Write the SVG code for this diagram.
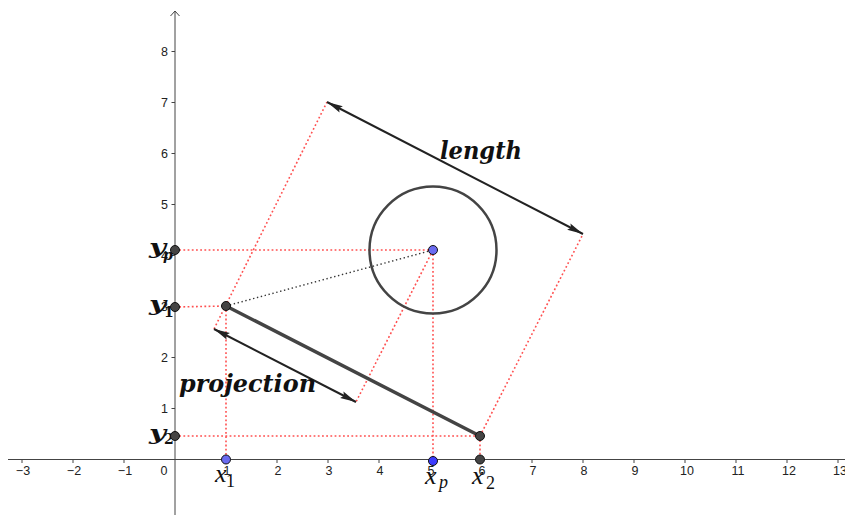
<svg xmlns="http://www.w3.org/2000/svg" width="845" height="515" viewBox="0 0 845 515">
<defs>
<style>
.axis{stroke:#444;stroke-width:1;fill:none}
.tick{stroke:#444;stroke-width:1}
.tl{font-family:"Liberation Sans",Arial,sans-serif;font-size:12.5px;fill:#222}
.tlx{text-anchor:middle}
.tly{text-anchor:end}
.red{stroke:#ff5050;stroke-width:1.6;stroke-dasharray:1.8 2.4;fill:none}
.blk{stroke:#333;stroke-width:1.4;stroke-dasharray:1.4 2.6;fill:none}
.vec{stroke:#222;stroke-width:2;fill:none;marker-start:url(#ah);marker-end:url(#ah)}
.seg{stroke:#444;stroke-width:3.5;stroke-linecap:round;fill:none}
.circ{stroke:#444;stroke-width:2.5;fill:none}
.ptd{fill:#444;stroke:#111;stroke-width:1}
.ptb{fill:#6b6bf0;stroke:#111;stroke-width:1}
.ptb2{fill:#3c3cff;stroke:#111;stroke-width:1}
.big{font-family:"DejaVu Serif","Liberation Serif",serif;font-weight:bold;font-style:italic;font-size:25px;fill:#111}
.ylab{font-family:"DejaVu Serif","Liberation Serif",serif;font-weight:bold;font-style:italic;font-size:20px;fill:#111}
.ysub{font-family:"DejaVu Serif","Liberation Serif",serif;font-weight:bold;font-size:14px;fill:#111}
.ysubi{font-family:"DejaVu Serif","Liberation Serif",serif;font-weight:bold;font-style:italic;font-size:14px;fill:#111}
.xlab{font-family:"Liberation Serif","Times New Roman",serif;font-style:italic;font-size:26px;fill:#111}
.xsub{font-family:"Liberation Serif","Times New Roman",serif;font-size:18px;fill:#111}
.xsubi{font-family:"Liberation Serif","Times New Roman",serif;font-style:italic;font-size:18px;fill:#111}
</style>
<marker id="ah" markerUnits="userSpaceOnUse" markerWidth="18" markerHeight="12" refX="16" refY="6" orient="auto-start-reverse">
<path d="M0,2.4 L16,6 L0,9.6 L2.5,6 Z" fill="#222"/>
</marker>
</defs>
<rect width="845" height="515" fill="#fff"/>

<g id="axes">
<line class="axis" x1="8" y1="459.5" x2="845" y2="459.5"/>
<line class="axis" x1="175" y1="11" x2="175" y2="515"/>
<polyline class="axis" points="170.5,16 175,11 179.5,16"/>
<g class="tick">
<line x1="22" y1="459.5" x2="22" y2="463"/>
<line x1="73" y1="459.5" x2="73" y2="463"/>
<line x1="124" y1="459.5" x2="124" y2="463"/>
<line x1="226" y1="459.5" x2="226" y2="463"/>
<line x1="277" y1="459.5" x2="277" y2="463"/>
<line x1="328" y1="459.5" x2="328" y2="463"/>
<line x1="379" y1="459.5" x2="379" y2="463"/>
<line x1="430" y1="459.5" x2="430" y2="463"/>
<line x1="481" y1="459.5" x2="481" y2="463"/>
<line x1="532" y1="459.5" x2="532" y2="463"/>
<line x1="583" y1="459.5" x2="583" y2="463"/>
<line x1="634" y1="459.5" x2="634" y2="463"/>
<line x1="685" y1="459.5" x2="685" y2="463"/>
<line x1="736" y1="459.5" x2="736" y2="463"/>
<line x1="787" y1="459.5" x2="787" y2="463"/>
<line x1="838" y1="459.5" x2="838" y2="463"/>
<line x1="171.5" y1="408.5" x2="175" y2="408.5"/>
<line x1="171.5" y1="357.5" x2="175" y2="357.5"/>
<line x1="171.5" y1="306.5" x2="175" y2="306.5"/>
<line x1="171.5" y1="255.5" x2="175" y2="255.5"/>
<line x1="171.5" y1="204.5" x2="175" y2="204.5"/>
<line x1="171.5" y1="153.5" x2="175" y2="153.5"/>
<line x1="171.5" y1="102.5" x2="175" y2="102.5"/>
<line x1="171.5" y1="51.5" x2="175" y2="51.5"/>
</g>
<g class="tl tlx">
<text x="23" y="475">−3</text>
<text x="74" y="475">−2</text>
<text x="125" y="475">−1</text>
<text x="164" y="475">0</text>
<text x="227" y="475">1</text>
<text x="278" y="475">2</text>
<text x="329" y="475">3</text>
<text x="380" y="475">4</text>
<text x="431" y="475">5</text>
<text x="482" y="475">6</text>
<text x="533" y="475">7</text>
<text x="584" y="475">8</text>
<text x="635" y="475">9</text>
<text x="687" y="475">10</text>
<text x="738" y="475">11</text>
<text x="789" y="475">12</text>
<text x="840" y="475">13</text>
</g>
<g class="tl tly">
<text x="168" y="413">1</text>
<text x="168" y="362">2</text>
<text x="168" y="311">3</text>
<text x="168" y="260">4</text>
<text x="168" y="209">5</text>
<text x="168" y="158">6</text>
<text x="168" y="107">7</text>
<text x="168" y="56">8</text>
</g>
</g>

<g id="connectors">
<line class="red" x1="175" y1="250" x2="433" y2="250"/>
<line class="red" x1="175" y1="307" x2="226" y2="306"/>
<line class="red" x1="175" y1="436" x2="480" y2="436"/>
<line class="red" x1="226" y1="306" x2="226" y2="459.5"/>
<line class="red" x1="433" y1="250" x2="433" y2="461"/>
<line class="red" x1="480" y1="436" x2="480" y2="459.5"/>
<line class="red" x1="214" y1="329" x2="327" y2="102"/>
<line class="red" x1="480" y1="436" x2="583" y2="234"/>
<line class="red" x1="433" y1="250" x2="356" y2="402"/>
<line class="blk" x1="226" y1="306" x2="433" y2="250"/>
<line class="vec" x1="327" y1="102" x2="583" y2="234"/>
<line class="vec" x1="214" y1="329" x2="356" y2="402"/>
</g>

<g id="circle">
<circle class="circ" cx="433" cy="250" r="63.5"/>
</g>
<g id="segment">
<line class="seg" x1="226" y1="306" x2="480" y2="436"/>
</g>

<g id="labels">
<text class="big" x="440" y="159" textLength="82" lengthAdjust="spacingAndGlyphs">length</text>
<text class="big" x="179" y="392" textLength="137" lengthAdjust="spacingAndGlyphs">projection</text>
</g>

<g id="node-yp">
<text class="ylab" x="149" y="254" textLength="17" lengthAdjust="spacingAndGlyphs">y</text>
<text class="ysubi" x="163" y="260">p</text>
<circle class="ptd" cx="175" cy="250" r="4.5"/>
</g>
<g id="node-y1">
<text class="ylab" x="149" y="311" textLength="17" lengthAdjust="spacingAndGlyphs">y</text>
<text class="ysub" x="164" y="317">1</text>
<circle class="ptd" cx="175" cy="307" r="4.5"/>
</g>
<g id="node-y2">
<text class="ylab" x="149" y="440" textLength="17" lengthAdjust="spacingAndGlyphs">y</text>
<text class="ysub" x="164" y="444">2</text>
<circle class="ptd" cx="175" cy="436" r="4.5"/>
</g>
<g id="node-x1">
<text class="xlab" x="215" y="482">x</text>
<text class="xsub" x="226" y="487">1</text>
<circle class="ptb" cx="226" cy="459.5" r="4.5"/>
</g>
<g id="node-xp">
<text class="xlab" x="425" y="484">x</text>
<text class="xsubi" x="439" y="488">p</text>
<circle class="ptb2" cx="433" cy="461" r="4.5"/>
</g>
<g id="node-x2">
<text class="xlab" x="472" y="484">x</text>
<text class="xsub" x="486" y="489">2</text>
<circle class="ptd" cx="480" cy="459.5" r="4.5"/>
</g>
<g id="node-A">
<circle class="ptd" cx="226" cy="306" r="4.5"/>
</g>
<g id="node-B">
<circle class="ptd" cx="480" cy="436" r="4.5"/>
</g>
<g id="node-P">
<circle class="ptb" cx="433" cy="250" r="4.5"/>
</g>
</svg>
